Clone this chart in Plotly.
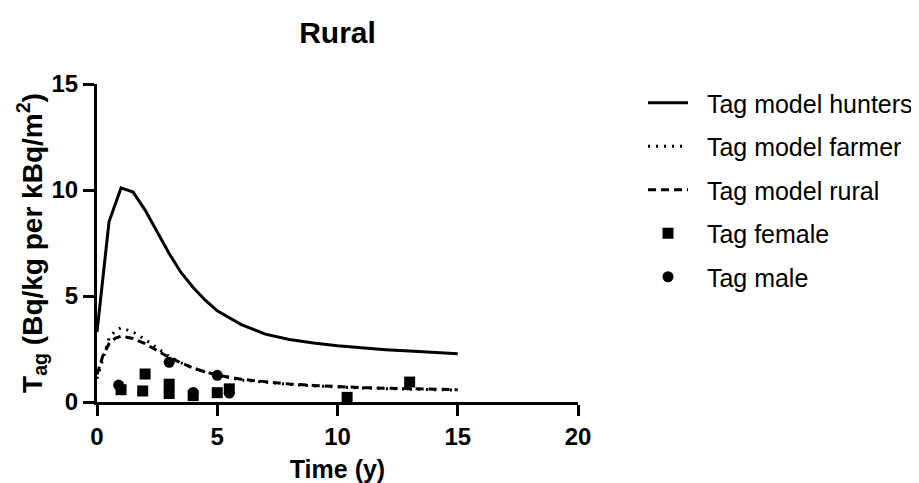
import plotly.graph_objects as go

# Model curves
t_model = [0, 0.5, 1, 1.5, 2, 2.5, 3, 3.5, 4, 4.5, 5, 6, 7, 8, 9, 10, 11, 12, 13, 14, 15]
hunters = [3.3, 8.5, 10.1, 9.9, 9.05, 8.0, 7.0, 6.1, 5.4, 4.8, 4.3, 3.65, 3.2, 2.95, 2.78, 2.65, 2.55, 2.47, 2.4, 2.33, 2.28]

t_fine = [0, 0.25, 0.5, 0.75, 1, 1.5, 2, 2.5, 3, 3.5, 4, 4.5, 5, 6, 7, 8, 9, 10, 11, 12, 13, 14, 15]
farmer = [1.1, 2.0, 3.0, 3.35, 3.5, 3.3, 2.95, 2.55, 2.15, 1.85, 1.6, 1.42, 1.28, 1.04, 0.92, 0.83, 0.76, 0.7, 0.66, 0.63, 0.6, 0.58, 0.56]
rural = [1.3, 2.2, 2.75, 3.0, 3.1, 3.0, 2.75, 2.42, 2.1, 1.84, 1.6, 1.42, 1.27, 1.07, 0.95, 0.85, 0.78, 0.72, 0.68, 0.65, 0.62, 0.6, 0.58]

# Observations
female_t = [1, 1.9, 2, 3, 3, 4, 5, 5.5, 10.4, 13]
female_v = [0.58, 0.52, 1.32, 0.84, 0.4, 0.3, 0.44, 0.62, 0.22, 0.94]
male_t = [0.9, 3, 4, 5, 5.5]
male_v = [0.8, 1.87, 0.45, 1.26, 0.42]

FONT = "Arial, 'Liberation Sans', sans-serif"
NB = "\u00a0\u00a0"

fig = go.Figure()
fig.add_trace(go.Scatter(x=t_model, y=hunters, mode="lines", name=NB + "Tag model hunters",
                         legendgroup="a", line=dict(color="black", width=3)))
fig.add_trace(go.Scatter(x=t_fine, y=farmer, mode="lines", name=NB + "Tag model farmer",
                         legendgroup="b", line=dict(color="black", width=3, dash="2px,6px")))
fig.add_trace(go.Scatter(x=t_fine, y=rural, mode="lines", name=NB + "Tag model rural",
                         legendgroup="c", line=dict(color="black", width=3, dash="8px,5px")))
fig.add_trace(go.Scatter(x=female_t, y=female_v, mode="markers", name=NB + "Tag female",
                         legendgroup="d", marker=dict(symbol="square", size=11, color="black")))
fig.add_trace(go.Scatter(x=male_t, y=male_v, mode="markers", name=NB + "Tag male",
                         legendgroup="e", marker=dict(symbol="circle", size=11, color="black")))

axis_common = dict(showgrid=False, zeroline=False, showline=True, linecolor="black", linewidth=3,
                   ticks="outside", ticklen=11, tickwidth=3, tickcolor="black", automargin=False,
                   tickfont=dict(family=FONT, size=24, color="black", weight="bold"))

W, H = 911, 475  # page body adds an 8px offset
fig.update_layout(
    width=W, height=H,
    margin=dict(l=89, r=341, t=76, b=81),
    paper_bgcolor="white", plot_bgcolor="white",
    title=dict(text="<b>Rural</b>", x=(89 + 570) / 2 / W, xanchor="center",
               y=1 - 24 / H, yanchor="middle",
               font=dict(family=FONT, size=30, color="black")),
    xaxis=dict(range=[0, 20], tickvals=[0, 5, 10, 15, 20],
               title=dict(text="<b>Time (y)</b>", font=dict(family=FONT, size=25, color="black"), standoff=12),
               **axis_common),
    yaxis=dict(range=[0, 15], tickvals=[0, 5, 10, 15],
               title=dict(text="<b>T<sub>ag</sub> (Bq/kg per kBq/m<sup>2</sup>)</b>",
                          font=dict(family=FONT, size=28, color="black"), standoff=0),
               **axis_common),
    legend=dict(xref="container", yref="container", x=(643 - 8) / W, y=1 - (80 - 8) / H,
                xanchor="left", yanchor="top", tracegroupgap=8,
                font=dict(family=FONT, size=25, color="black"), itemwidth=40),
    showlegend=True,
)

fig.write_html("out.html")
